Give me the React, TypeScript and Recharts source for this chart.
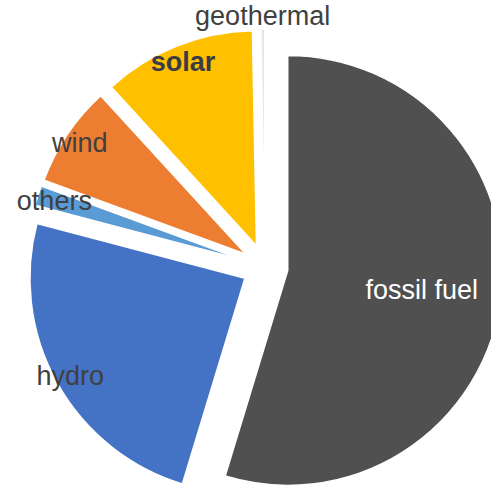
import { PieChart, Pie, Cell, Sector } from 'recharts';

// clockwise from 12 o'clock
const categories = ['fossil fuel', 'hydro', 'others', 'wind', 'solar', 'geothermal'];
const shares = [54.7, 24.4, 1.5, 7.6, 11.5, 0.3];

const data = categories.map((name, i) => ({ name, value: shares[i] }));

const sliceColors: Record<string, string> = {
  'fossil fuel': '#505050',
  hydro: '#4472C4',
  others: '#5B9BD5',
  wind: '#ED7D31',
  solar: '#FFC000',
  geothermal: '#E3E7EE',
};

// where each label sits, as a fraction of the radius from the exploded apex
const labelStyle: Record<string, { k: number; color: string; bold?: boolean }> = {
  'fossil fuel': { k: 0.63, color: '#ffffff' },
  hydro: { k: 0.93, color: '#404040' },
  others: { k: 0.92, color: '#404040' },
  wind: { k: 0.93, color: '#404040' },
  solar: { k: 0.92, color: '#3b3b45', bold: true },
  geothermal: { k: 1.06, color: '#404040' },
};

const RADIAN = Math.PI / 180;
const EXPLODE = 23;

function offset(midAngle: number, dist: number) {
  return {
    dx: dist * Math.cos(-midAngle * RADIAN),
    dy: dist * Math.sin(-midAngle * RADIAN),
  };
}

function ExplodedSector(props: any) {
  const { dx, dy } = offset(props.midAngle, EXPLODE);
  return <Sector {...props} cx={props.cx + dx} cy={props.cy + dy} />;
}

function renderLabel(props: any) {
  const { cx, cy, midAngle, outerRadius, name } = props;
  const st = labelStyle[name];
  const a = offset(midAngle, EXPLODE);
  const b = offset(midAngle, outerRadius * st.k);
  return (
    <text
      x={cx + a.dx + b.dx}
      y={cy + a.dy + b.dy}
      fill={st.color}
      textAnchor="middle"
      dominantBaseline="central"
      fontSize={27}
      fontWeight={st.bold ? 'bold' : 'normal'}
      fontFamily="'Liberation Sans', Arial, sans-serif"
    >
      {name}
    </text>
  );
}

export default function App() {
  return (
    <div style={{ position: 'absolute', left: 0, top: 0, background: '#fff' }}>
      <PieChart width={491} height={485} margin={{ top: 0, right: 0, bottom: 0, left: 0 }}>
        <Pie
          data={data}
          dataKey="value"
          nameKey="name"
          cx={265}
          cy={267}
          outerRadius={215}
          startAngle={90}
          endAngle={-270}
          stroke="#ffffff"
          strokeWidth={1.5}
          shape={ExplodedSector}
          label={renderLabel}
          labelLine={false}
          isAnimationActive={false}
        >
          {data.map((d) => (
            <Cell key={d.name} fill={sliceColors[d.name]} />
          ))}
        </Pie>
      </PieChart>
    </div>
  );
}
